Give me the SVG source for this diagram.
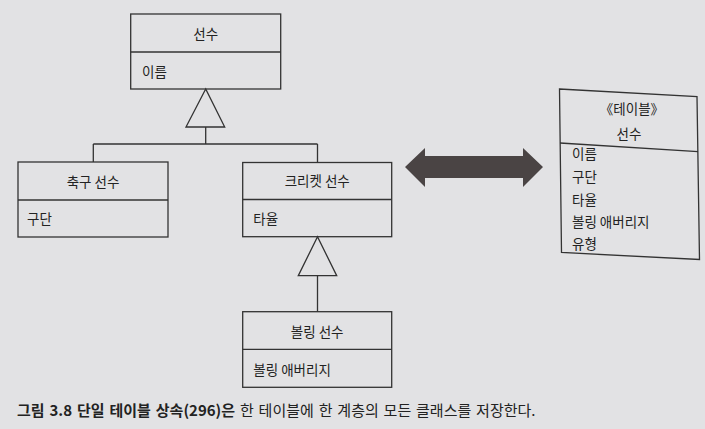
<svg xmlns="http://www.w3.org/2000/svg" width="705" height="429" viewBox="0 0 705 429">
<style>
.bg{fill:#e2e2e4}
.box{fill:none;stroke:#333;stroke-width:1.3}
.ln{fill:none;stroke:#333;stroke-width:1.3}
.tri{fill:#e2e2e4;stroke:#333;stroke-width:1.3;stroke-linejoin:miter}
.t{font-family:"Noto Sans CJK KR","Noto Sans",sans-serif;font-size:13.5px;fill:#222}
.c{text-anchor:middle}
.cap{font-family:"Noto Sans CJK KR","Noto Sans",sans-serif;font-size:15px;word-spacing:1.5px;fill:#222}
</style>
<rect class="bg" x="0" y="0" width="705" height="429"/>

<g id="connectors">
  <polygon class="tri" points="205.7,89 186,127 224.7,127"/>
  <path class="ln" d="M205.7,127 V144 M93.3,144 H317.5 M93.3,144 V162 M317.5,144 V162.5"/>
  <polygon class="tri" points="317.5,236.7 298.3,275.7 336.7,275.7"/>
  <path class="ln" d="M317.5,275.7 V311.7"/>
  <polygon id="mapping-arrow" fill="#4a4444" points="405,167 425,148 425,156 523,156 523,148 543,167 523,187 523,178 425,178 425,187"/>
</g>

<g id="node-player">
  <rect class="box" x="130.7" y="14" width="150" height="75"/>
  <line class="ln" x1="130.7" y1="52" x2="280.7" y2="52"/>
  <text class="t c" x="205.7" y="39">선수</text>
  <text class="t" x="142" y="77">이름</text>
</g>

<g id="node-footballer">
  <rect class="box" x="18" y="162" width="150" height="75"/>
  <line class="ln" x1="18" y1="200" x2="168" y2="200"/>
  <text class="t c" x="93" y="187">축구 선수</text>
  <text class="t" x="27" y="224">구단</text>
</g>

<g id="node-cricketer">
  <rect class="box" x="242.7" y="162.5" width="149" height="74.2"/>
  <line class="ln" x1="242.7" y1="199.5" x2="391.7" y2="199.5"/>
  <text class="t c" x="317.2" y="186">크리켓 선수</text>
  <text class="t" x="253.3" y="224">타율</text>
</g>

<g id="node-bowler">
  <rect class="box" x="242.7" y="311.7" width="149" height="75.6"/>
  <line class="ln" x1="242.7" y1="349.3" x2="391.7" y2="349.3"/>
  <text class="t c" x="317.2" y="337">볼링 선수</text>
  <text class="t" x="253.3" y="375">볼링 애버리지</text>
</g>

<g id="node-table">
  <polygon class="box" points="559.5,89 697,96.7 699.5,259.5 561.5,252.5"/>
  <line class="ln" x1="560" y1="143" x2="698" y2="151.7"/>
  <text class="t c" x="632" y="114">《테이블》</text>
  <text class="t c" x="629" y="138.5">선수</text>
  <text class="t" x="572" y="159">이름</text>
  <text class="t" x="572" y="182">구단</text>
  <text class="t" x="572" y="204.5">타율</text>
  <text class="t" x="572" y="227">볼링 애버리지</text>
  <text class="t" x="572" y="249">유형</text>
</g>

<text id="caption" class="cap" x="17" y="415.5"><tspan font-weight="bold">그림 3.8 단일 테이블 상속(296)은</tspan> 한 테이블에 한 계층의 모든 클래스를 저장한다.</text>
</svg>
